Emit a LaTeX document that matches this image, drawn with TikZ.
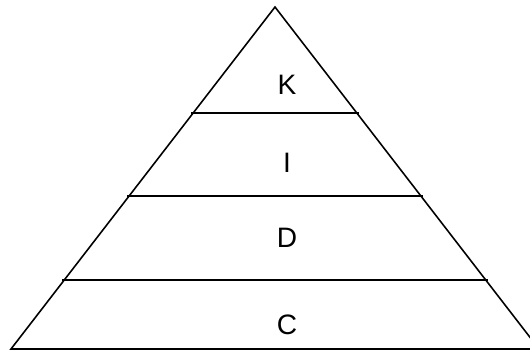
\documentclass[tikz,border=0pt]{standalone}
\usepackage{fontspec}
\setmainfont{Liberation Sans}
\usetikzlibrary{calc}
\tikzset{
  edge/.style={draw=black, line width=0.9pt, line join=miter},
  layerline/.style={draw=black, line width=0.9pt},
  layerlabel/.style={font=\fontsize{16}{19}\selectfont, inner sep=0pt}
}
\begin{document}
\begin{tikzpicture}[x=0.02cm,y=-0.02cm]

%--------------------------------------------------
% Frame
%--------------------------------------------------
\useasboundingbox (0,0) rectangle (530,351);
\clip (0,0) rectangle (530,351);

%--------------------------------------------------
% Pyramid outline
%--------------------------------------------------
\coordinate (apex) at (275,7);
\coordinate (baseleft) at (11,349);
\coordinate (baseright) at (539,349);

\draw[edge] (baseleft) -- (apex) -- (baseright) -- cycle;

%--------------------------------------------------
% Layer separators
%--------------------------------------------------
\foreach \f in {0.690,0.447,0.202}
  \draw[layerline] ($(baseleft)!\f!(apex)+(-2,0)$) -- ($(baseright)!\f!(apex)+(2,0)$);

%--------------------------------------------------
% Layer labels
%--------------------------------------------------
\node[layerlabel] (knowledge) at (287,85) {K};
\node[layerlabel] (information) at (287,163) {I};
\node[layerlabel] (data) at (287,238) {D};
\node[layerlabel] (content) at (287,325) {C};

\end{tikzpicture}
\end{document}
